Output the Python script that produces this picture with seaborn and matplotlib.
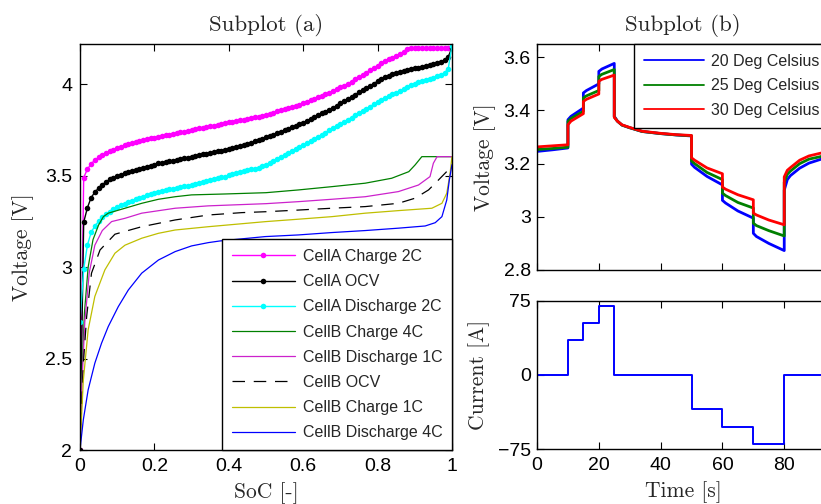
import numpy as np
import matplotlib
matplotlib.use('Agg')
import matplotlib.pyplot as plt
from matplotlib.ticker import FuncFormatter
import seaborn as sns

# ---- Subplot (a): SoC vs voltage ----
soc_a = np.linspace(0, 1, 101)

cellA_charge_2C = [2.00, 3.49, 3.535, 3.565, 3.585, 3.60, 3.612, 3.624, 3.634, 3.643,
                   3.651, 3.659, 3.667, 3.673, 3.679, 3.685, 3.691, 3.696, 3.700, 3.704,
                   3.708, 3.712, 3.717, 3.721, 3.725, 3.729, 3.733, 3.737, 3.741, 3.745,
                   3.750, 3.754, 3.758, 3.762, 3.766, 3.770, 3.774, 3.778, 3.783, 3.787,
                   3.791, 3.795, 3.799, 3.803, 3.807, 3.811, 3.815, 3.819, 3.823, 3.828,
                   3.833, 3.839, 3.845, 3.851, 3.858, 3.864, 3.870, 3.876, 3.883, 3.889,
                   3.897, 3.905, 3.913, 3.921, 3.929, 3.937, 3.945, 3.954, 3.963, 3.973,
                   3.983, 3.993, 4.003, 4.014, 4.026, 4.038, 4.051, 4.064, 4.077, 4.090,
                   4.102, 4.114, 4.125, 4.136, 4.146, 4.156, 4.166, 4.178, 4.192, 4.200,
                   4.20, 4.20, 4.20, 4.20, 4.20, 4.20, 4.20, 4.20, 4.20, 4.20, 4.20]

cellA_ocv = [2.00, 3.245, 3.325, 3.38, 3.41, 3.432, 3.45, 3.466, 3.48, 3.49,
             3.498, 3.506, 3.513, 3.519, 3.525, 3.531, 3.537, 3.543, 3.549, 3.555,
             3.561, 3.567, 3.571, 3.575, 3.579, 3.583, 3.587, 3.591, 3.595, 3.599,
             3.604, 3.608, 3.612, 3.616, 3.621, 3.625, 3.629, 3.633, 3.637, 3.641,
             3.646, 3.651, 3.656, 3.661, 3.667, 3.673, 3.680, 3.687, 3.695, 3.703,
             3.711, 3.718, 3.725, 3.733, 3.741, 3.749, 3.757, 3.765, 3.773, 3.781,
             3.790, 3.800, 3.810, 3.820, 3.830, 3.840, 3.850, 3.860, 3.871, 3.883,
             3.895, 3.907, 3.919, 3.931, 3.943, 3.955, 3.967, 3.980, 3.992, 4.004,
             4.016, 4.028, 4.038, 4.047, 4.055, 4.062, 4.068, 4.073, 4.078, 4.083,
             4.087, 4.091, 4.096, 4.101, 4.106, 4.112, 4.118, 4.124, 4.132, 4.150,
             4.200]

cellA_discharge_2C = [2.70, 2.99, 3.12, 3.19, 3.225, 3.25, 3.272, 3.29, 3.304, 3.316,
                      3.327, 3.337, 3.346, 3.354, 3.362, 3.370, 3.378, 3.386, 3.393, 3.400,
                      3.406, 3.412, 3.417, 3.421, 3.425, 3.429, 3.433, 3.437, 3.441, 3.445,
                      3.449, 3.455, 3.461, 3.467, 3.473, 3.479, 3.483, 3.487, 3.491, 3.495,
                      3.501, 3.507, 3.513, 3.519, 3.524, 3.529, 3.534, 3.538, 3.543, 3.551,
                      3.560, 3.570, 3.580, 3.592, 3.603, 3.615, 3.626, 3.636, 3.646, 3.656,
                      3.666, 3.676, 3.688, 3.700, 3.712, 3.724, 3.736, 3.749, 3.762, 3.773,
                      3.784, 3.795, 3.806, 3.818, 3.830, 3.842, 3.854, 3.866, 3.878, 3.890,
                      3.902, 3.914, 3.924, 3.934, 3.944, 3.954, 3.964, 3.974, 3.984, 3.994,
                      4.004, 4.012, 4.018, 4.024, 4.030, 4.036, 4.043, 4.052, 4.063, 4.085,
                      4.21]

soc_b_charge_4C = [0, .005, .012, .022, .035, .05, .063, .076, .121, .166, .211, .256, .30,
                   .39, .50, .587, .677, .767, .838, .884, .901, .919, 1.0]
cellB_charge_4C = [2.0, 2.4, 2.75, 3.0, 3.15, 3.23, 3.276, 3.295, 3.322, 3.349, 3.371, 3.385,
                   3.395, 3.40, 3.407, 3.422, 3.44, 3.459, 3.486, 3.522, 3.559, 3.604, 3.604]

soc_b_discharge_1C = [0, .005, .013, .025, .04, .06, .085, .121, .166, .256, .345, .50, .587,
                      .677, .767, .856, .91, .941, .95, .96, 1.0]
cellB_discharge_1C = [2.0, 2.35, 2.7, 2.97, 3.12, 3.2, 3.249, 3.267, 3.295, 3.322, 3.335, 3.347,
                      3.358, 3.371, 3.385, 3.413, 3.449, 3.495, 3.568, 3.604, 3.604]

soc_b_ocv = [0, .009, .018, .031, .054, .094, .166, .256, .345, .435, .50, .587, .677, .767,
             .856, .901, .937, .964, .99, 1.0]
cellB_ocv = [2.02, 2.47, 2.73, 2.967, 3.094, 3.18, 3.221, 3.258, 3.285, 3.298, 3.303, 3.312,
             3.322, 3.331, 3.349, 3.377, 3.422, 3.477, 3.531, 3.56]

soc_b_charge_1C = [0, .009, .022, .04, .067, .094, .121, .166, .211, .256, .345, .50, .587,
                   .677, .767, .856, .946, .973, .986, .995, 1.0]
cellB_charge_1C = [2.0, 2.38, 2.657, 2.84, 2.985, 3.076, 3.12, 3.158, 3.185, 3.203, 3.221, 3.249,
                   3.262, 3.276, 3.295, 3.309, 3.322, 3.349, 3.404, 3.513, 3.604]

soc_b_discharge_4C = [0, .009, .022, .04, .058, .076, .103, .13, .166, .211, .256, .30, .345,
                      .376, .498, .587, .677, .767, .856, .928, .955, .973, .986, .993, 1.0]
cellB_discharge_4C = [2.0, 2.165, 2.329, 2.475, 2.584, 2.675, 2.784, 2.875, 2.967, 3.039, 3.085,
                      3.116, 3.134, 3.143, 3.167, 3.176, 3.189, 3.2, 3.213, 3.225, 3.243, 3.276,
                      3.367, 3.477, 3.56]

# ---- Subplot (b): pulse test ----
t_20 = [0, 5, 10, 10, 11, 15, 15, 16, 20, 20, 21, 25, 25, 26, 27.5, 30, 34, 40, 45, 50, 50, 51,
        55, 60, 60, 61, 65, 70, 70, 71, 75, 80, 80, 81, 82, 85, 88, 92, 100]
v_20 = [3.246, 3.252, 3.259, 3.365, 3.378, 3.409, 3.466, 3.475, 3.50, 3.547, 3.556, 3.577,
        3.378, 3.36, 3.345, 3.335, 3.321, 3.313, 3.308, 3.304, 3.198, 3.186, 3.152, 3.12,
        3.062, 3.052, 3.022, 2.995, 2.938, 2.926, 2.90, 2.873, 3.10, 3.14, 3.155, 3.183,
        3.202, 3.217, 3.235]
t_25 = t_20
v_25 = [3.253, 3.257, 3.262, 3.359, 3.37, 3.397, 3.447, 3.455, 3.475, 3.528, 3.536, 3.554,
        3.376, 3.36, 3.345, 3.335, 3.321, 3.313, 3.308, 3.305, 3.21, 3.20, 3.167, 3.14,
        3.089, 3.08, 3.054, 3.033, 2.976, 2.967, 2.948, 2.928, 3.13, 3.16, 3.172, 3.20,
        3.217, 3.227, 3.243]
t_30 = t_20
v_30 = [3.263, 3.267, 3.271, 3.346, 3.36, 3.388, 3.434, 3.442, 3.462, 3.51, 3.517, 3.533,
        3.374, 3.36, 3.346, 3.336, 3.322, 3.314, 3.309, 3.306, 3.222, 3.213, 3.184, 3.162,
        3.112, 3.104, 3.083, 3.064, 3.014, 3.007, 2.988, 2.97, 3.15, 3.175, 3.185, 3.213,
        3.229, 3.24, 3.252]

t_cur = [0, 10, 10, 15, 15, 20, 20, 25, 25, 50, 50, 60, 60, 70, 70, 80, 80, 100]
i_cur = [0, 0, 35, 35, 52.5, 52.5, 70, 70, 0, 0, -35, -35, -52.5, -52.5, -70, -70, 0, 0]

sns.set_theme(style='ticks')
plt.rcParams['font.family'] = ['Liberation Sans', 'DejaVu Sans']
plt.rcParams['axes.linewidth'] = 1.0
plt.rcParams['axes.edgecolor'] = 'black'

label_font = dict(family='cmr10', size=15.5)
title_font = dict(family='cmr10', size=16.5)
tick_fmt = FuncFormatter(lambda v, p: f'{v:g}'.replace('-', '\u2212'))


def style_axis(ax, pad_y):
    ax.tick_params(direction='in', top=True, right=True, length=5, width=0.8,
                   labelsize=14, colors='black')
    ax.tick_params(axis='y', pad=pad_y)
    ax.tick_params(axis='x', pad=6)


def boxed_legend(ax, loc, handlelength, spacing):
    leg = ax.legend(loc=loc, borderaxespad=0, fontsize=11.5, frameon=True, fancybox=False,
                    edgecolor='black', framealpha=1, handlelength=handlelength,
                    handletextpad=0.45, labelspacing=spacing, borderpad=0.6)
    leg.get_frame().set_linewidth(1.0)
    return leg


fig = plt.figure(figsize=(8.21, 5.04), dpi=100)
ax_a = fig.add_axes([0.0974, 0.1071, 0.4531, 0.8056])
ax_v = fig.add_axes([0.6541, 0.4643, 0.3557, 0.4484])
ax_i = fig.add_axes([0.6541, 0.1091, 0.3557, 0.2942])

# subplot (a)
dot = dict(marker='o', markersize=4, markeredgewidth=0, lw=1)
sns.lineplot(x=soc_a, y=cellA_charge_2C, ax=ax_a, color='#ff00ff', label='CellA Charge 2C',
             sort=False, estimator=None, **dot)
sns.lineplot(x=soc_a, y=cellA_ocv, ax=ax_a, color='black', label='CellA OCV',
             sort=False, estimator=None, **dot)
sns.lineplot(x=soc_a, y=cellA_discharge_2C, ax=ax_a, color='#00ffff', label='CellA Discharge 2C',
             sort=False, estimator=None, **dot)
sns.lineplot(x=soc_b_charge_4C, y=cellB_charge_4C, ax=ax_a, color='#008000', lw=0.9,
             label='CellB Charge 4C', sort=False, estimator=None)
sns.lineplot(x=soc_b_discharge_1C, y=cellB_discharge_1C, ax=ax_a, color='#cc22cc', lw=0.9,
             label='CellB Discharge 1C', sort=False, estimator=None)
sns.lineplot(x=soc_b_ocv, y=cellB_ocv, ax=ax_a, color='black', lw=0.9, ls=(0, (10, 7)),
             label='CellB OCV', sort=False, estimator=None)
sns.lineplot(x=soc_b_charge_1C, y=cellB_charge_1C, ax=ax_a, color='#bfbf00', lw=0.9,
             label='CellB Charge 1C', sort=False, estimator=None)
sns.lineplot(x=soc_b_discharge_4C, y=cellB_discharge_4C, ax=ax_a, color='#0000ff', lw=0.9,
             label='CellB Discharge 4C', sort=False, estimator=None)

ax_a.set_xlim(0, 1)
ax_a.set_ylim(2, 4.22)
ax_a.set_xticks([0, 0.2, 0.4, 0.6, 0.8, 1])
ax_a.set_yticks([2, 2.5, 3, 3.5, 4])
ax_a.xaxis.set_major_formatter(tick_fmt)
ax_a.yaxis.set_major_formatter(tick_fmt)
style_axis(ax_a, 5.5)
ax_a.set_xlabel('SoC [-]', fontdict=label_font)
ax_a.set_ylabel('Voltage [V]', fontdict=label_font)
ax_a.xaxis.set_label_coords(0.5, -0.079)
ax_a.yaxis.set_label_coords(-0.124, 0.5)
ax_a.set_title('Subplot (a)', fontdict=title_font, pad=9)
boxed_legend(ax_a, 'lower right', 4.0, 0.64)

# subplot (b) voltage
sns.lineplot(x=t_20, y=v_20, ax=ax_v, color='#0000ff', lw=2, label='20 Deg Celsius',
             sort=False, estimator=None)
sns.lineplot(x=t_25, y=v_25, ax=ax_v, color='#008000', lw=2, label='25 Deg Celsius',
             sort=False, estimator=None)
sns.lineplot(x=t_30, y=v_30, ax=ax_v, color='#ff0000', lw=2, label='30 Deg Celsius',
             sort=False, estimator=None)
ax_v.set_xlim(0, 94.5)
ax_v.set_ylim(2.8, 3.65)
ax_v.set_xticks([0, 20, 40, 60, 80])
ax_v.set_xticklabels([])
ax_v.set_yticks([2.8, 3.0, 3.2, 3.4, 3.6])
ax_v.yaxis.set_major_formatter(tick_fmt)
style_axis(ax_v, 4.5)
ax_v.set_ylabel('Voltage [V]', fontdict=label_font)
ax_v.yaxis.set_label_coords(-0.142, 0.5)
ax_v.set_title('Subplot (b)', fontdict=title_font, pad=9)
leg_v = boxed_legend(ax_v, 'upper right', 3.75, 0.61)
for h in leg_v.get_lines():
    h.set_linewidth(1.3)

# subplot (b) current
sns.lineplot(x=t_cur, y=i_cur, ax=ax_i, color='#0000ff', lw=1.4, sort=False, estimator=None)
ax_i.set_xlim(0, 94.5)
ax_i.set_ylim(-75, 75)
ax_i.set_xticks([0, 20, 40, 60, 80])
ax_i.set_yticks([-75, 0, 75])
ax_i.xaxis.set_major_formatter(tick_fmt)
ax_i.yaxis.set_major_formatter(tick_fmt)
style_axis(ax_i, 4.5)
ax_i.set_xlabel('Time [s]', fontdict=label_font)
ax_i.set_ylabel('Current [A]', fontdict=label_font)
ax_i.xaxis.set_label_coords(0.5, -0.22)
ax_i.yaxis.set_label_coords(-0.162, 0.5)

fig.savefig('out.png', dpi=100)
